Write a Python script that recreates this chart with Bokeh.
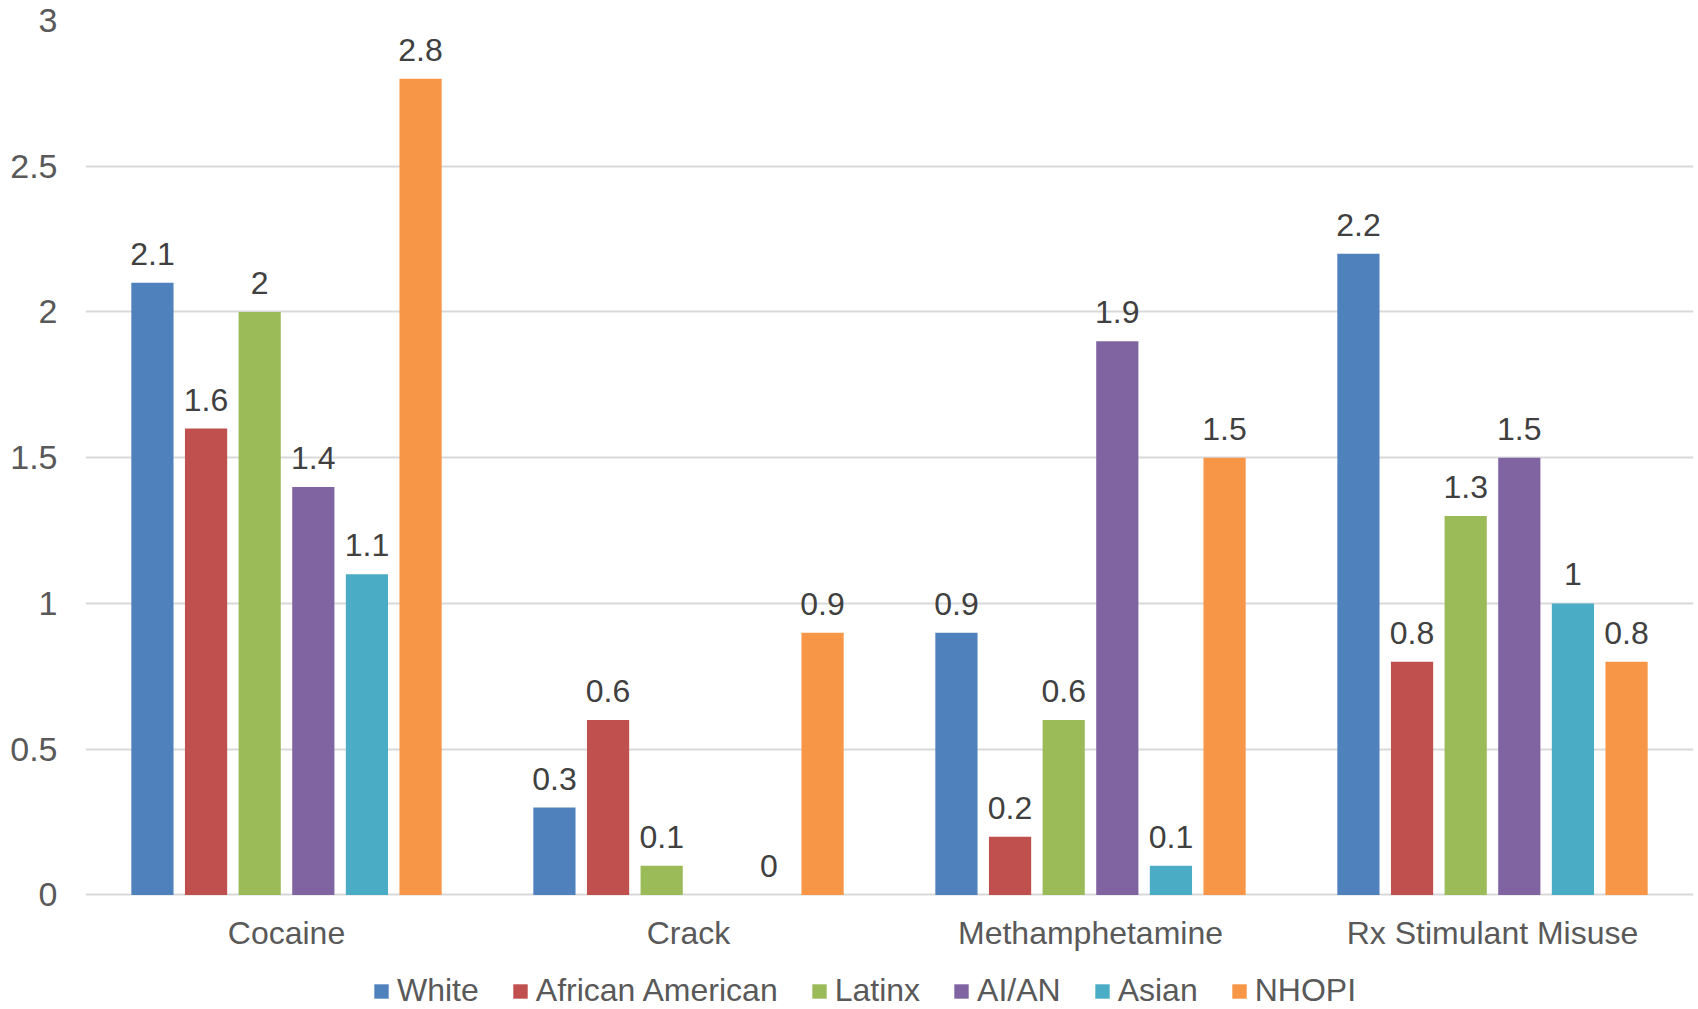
import math
from bokeh.plotting import figure
from bokeh.models import ColumnDataSource, FactorRange, Legend, LegendItem, FixedTicker, Range1d
from bokeh.transform import dodge
from bokeh.core.properties import value
from bokeh.embed import file_html
from bokeh.resources import INLINE

categories = ["Cocaine", "Crack", "Methamphetamine", "Rx Stimulant Misuse"]
series_names = ["White", "African American", "Latinx", "AI/AN", "Asian", "NHOPI"]
white = [2.1, 0.3, 0.9, 2.2]
african_american = [1.6, 0.6, 0.2, 0.8]
latinx = [2.0, 0.1, 0.6, 1.3]
ai_an = [1.4, float("nan"), 1.9, 1.5]
asian = [1.1, 0.0, 0.1, 1.0]
nhopi = [2.8, 0.9, 1.5, 0.8]
colors = ["#4F81BD", "#C0504D", "#9BBB59", "#8064A2", "#4BACC6", "#F79646"]
y_ticks = [0, 0.5, 1, 1.5, 2, 2.5, 3]
y_tick_labels = ["0", "0.5", "1", "1.5", "2", "2.5", "3"]

all_series = [white, african_american, latinx, ai_an, asian, nhopi]

FONT = "Liberation Sans"

# frame spans below zero so that the category labels and legend sit inside it
p = figure(
    x_range=FactorRange(*categories, range_padding=0),
    y_range=Range1d(-0.3928, 3),
    width=1698, height=1009,
    output_backend="svg", toolbar_location=None,
    min_border_left=85, min_border_right=5, min_border_top=20, min_border_bottom=0,
)
p.outline_line_color = None
p.background_fill_color = "white"
p.border_fill_color = "white"

slot = 0.1334
bar_w = 0.105
items = []
for i, (name, vals, col) in enumerate(zip(series_names, all_series, colors)):
    off = (i - 2.5) * slot
    src = ColumnDataSource(dict(cat=categories, v=vals))
    r = p.vbar(x=dodge("cat", off, range=p.x_range), top="v", width=bar_w,
               source=src, fill_color=col, line_color=None)
    items.append(LegendItem(label=name, renderers=[r]))
    lab_c = [c for c, v in zip(categories, vals) if not math.isnan(v)]
    lab_v = [v for v in vals if not math.isnan(v)]
    lab_t = ["%g" % v for v in lab_v]
    lsrc = ColumnDataSource(dict(cat=lab_c, v=lab_v, t=lab_t))
    p.text(x=dodge("cat", off, range=p.x_range), y="v", text="t", source=lsrc,
           text_align="center", text_baseline="bottom", y_offset=-18,
           text_font=value(FONT), text_font_size="32px", text_color="#404040")

# category labels under the zero line
csrc = ColumnDataSource(dict(cat=categories, y=[0] * len(categories)))
p.text(x="cat", y="y", text="cat", source=csrc, text_align="center",
       text_baseline="middle", y_offset=38,
       text_font=value(FONT), text_font_size="32px", text_color="#595959")

# y axis
p.yaxis.ticker = FixedTicker(ticks=y_ticks)
p.yaxis.major_label_overrides = {t: l for t, l in zip(y_ticks, y_tick_labels)}
p.yaxis.axis_line_color = None
p.yaxis.major_tick_line_color = None
p.yaxis.minor_tick_line_color = None
p.yaxis.major_tick_in = 0
p.yaxis.major_tick_out = 0
p.yaxis.major_label_text_font = FONT
p.yaxis.major_label_text_font_size = "34px"
p.yaxis.major_label_text_color = "#595959"
p.yaxis.major_label_standoff = 28

p.xaxis.visible = False

p.xgrid.grid_line_color = None
p.ygrid.grid_line_color = "#D9D9D9"
p.ygrid.grid_line_width = 2

legend = Legend(items=items, orientation="horizontal", location=(287, 0),
                label_text_font=FONT, label_text_font_size="32px",
                label_text_color="#595959", glyph_width=18, glyph_height=18,
                label_standoff=7, spacing=32, border_line_color=None,
                background_fill_alpha=0, padding=0, margin=0)
p.add_layout(legend, "center")

open("out.html", "w").write(file_html(p, INLINE))
